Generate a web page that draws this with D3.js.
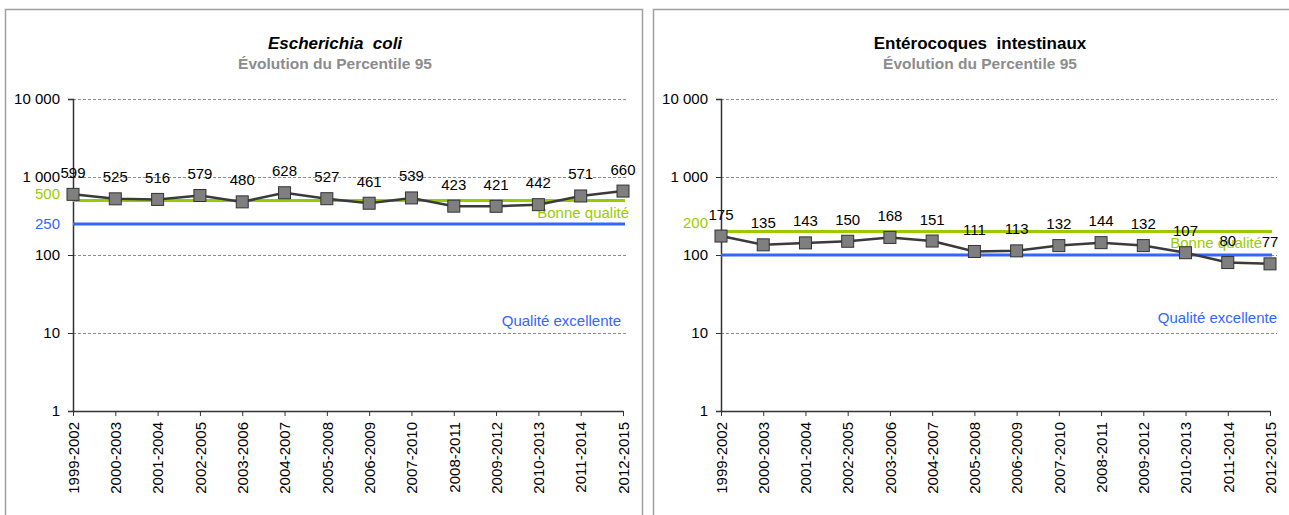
<!DOCTYPE html>
<html>
<head>
<meta charset="utf-8">
<script src="https://cdn.jsdelivr.net/npm/d3@7"></script>
<style>
  body { margin: 0; background: #fff; }
  svg { display: block; font-family: "Liberation Sans", Arial, sans-serif; }
  .grid line { stroke: #8c8c8c; stroke-dasharray: 3 2; }
  .axis path, .axis line { stroke: #333; }
</style>
</head>
<body>
<div id="chart"></div>
<script>
const periods = ["1999-2002", "2000-2003", "2001-2004", "2002-2005", "2003-2006",
  "2004-2007", "2005-2008", "2006-2009", "2007-2010", "2008-2011", "2009-2012",
  "2010-2013", "2011-2014", "2012-2015"];
const ecoliValues = [599, 525, 516, 579, 480, 628, 527, 461, 539, 423, 421, 442, 571, 660];
const enteroValues = [175, 135, 143, 150, 168, 151, 111, 113, 132, 144, 132, 107, 80, 77];
const yTicks = [1, 10, 100, 1000, 10000];
const ecoliThresholds = { good: 500, excellent: 250 };
const enteroThresholds = { good: 200, excellent: 100 };

const width = 1289;
const height = 515;

const green = "#99cc00";
const blue = "#3366ff";

const panels = [
  { title: "Escherichia  coli", italic: true, values: ecoliValues, th: ecoliThresholds,
    box: [5.5, 9.5, 637], x0: 73, x1: 623, gridEnd: 626, titleX: 335,
    goodLabelDy: -7, showExcTick: true,
    goodText: { x: 629, y: 213 }, excText: { x: 621, y: 321 } },
  { title: "Entérocoques  intestinaux", italic: false, values: enteroValues, th: enteroThresholds,
    box: [653.5, 9.5, 650], x0: 721, x1: 1270, gridEnd: 1277, titleX: 980,
    goodLabelDy: -9, showExcTick: false,
    goodText: { x: 1262, y: 243 }, excText: { x: 1277, y: 318 } },
];

const svg = d3.select("#chart").append("svg")
  .attr("width", width)
  .attr("height", height);
svg.append("rect").attr("width", width).attr("height", height).attr("fill", "#fff");

const y = d3.scaleLog().domain([1, 10000]).range([411, 99]);
const fmt = (d) => d3.format(",")(d).replace(/,/g, " ");

panels.forEach((p) => {
  const g = svg.append("g");

  // panel frame
  g.append("rect")
    .attr("x", p.box[0]).attr("y", p.box[1])
    .attr("width", p.box[2]).attr("height", 520)
    .attr("fill", "none").attr("stroke", "#9f9f9f").attr("stroke-width", 1.5);

  // titles
  g.append("text")
    .attr("x", p.titleX).attr("y", 49)
    .attr("text-anchor", "middle")
    .style("font-size", "17px").style("font-weight", "bold")
    .style("font-style", p.italic ? "italic" : "normal")
    .style("white-space", "pre")
    .text(p.title);
  g.append("text")
    .attr("x", p.titleX).attr("y", 69)
    .attr("text-anchor", "middle")
    .style("font-size", "15.5px").style("font-weight", "bold")
    .attr("fill", "#8c8c8c")
    .text("Évolution du Percentile 95");

  const x = d3.scalePoint().domain(periods).range([p.x0, p.x1]);

  // gridlines
  g.append("g").attr("class", "grid")
    .selectAll("line")
    .data(yTicks.filter((d) => d > 1))
    .join("line")
    .attr("x1", p.x0).attr("x2", p.gridEnd)
    .attr("y1", (d) => y(d) + 0.5).attr("y2", (d) => y(d) + 0.5);

  // y axis
  const yAxis = g.append("g").attr("class", "axis")
    .attr("transform", `translate(${p.x0},0)`)
    .call(d3.axisLeft(y).tickValues(yTicks).tickFormat(fmt).tickSize(5).tickPadding(8));
  yAxis.select(".domain").attr("stroke-width", 1.5);
  yAxis.selectAll("text").style("font-size", "15px").attr("fill", "#000");

  // x axis
  const xAxis = g.append("g").attr("class", "axis")
    .attr("transform", `translate(0,${y(1)})`)
    .call(d3.axisBottom(x).tickSize(5).tickSizeOuter(0));
  xAxis.select(".domain").attr("stroke-width", 1.5);
  xAxis.selectAll("text")
    .style("font-size", "15px").attr("fill", "#000")
    .attr("text-anchor", "end")
    .attr("transform", "rotate(-90)")
    .attr("x", -11).attr("y", 0).attr("dy", "0.35em");

  // thresholds
  const thr = [
    { v: p.th.good, c: green, dy: p.goodLabelDy, tick: true },
    { v: p.th.excellent, c: blue, dy: 0, tick: p.showExcTick },
  ];
  g.selectAll(".thr").data(thr).join("line")
    .attr("x1", p.x0).attr("x2", p.x1 + 2)
    .attr("y1", (d) => y(d.v)).attr("y2", (d) => y(d.v))
    .attr("stroke", (d) => d.c).attr("stroke-width", 3);
  g.selectAll(".thrLabel").data(thr.filter((d) => d.tick)).join("text")
    .attr("x", p.x0 - 13).attr("y", (d) => y(d.v) + d.dy)
    .attr("dy", "0.35em").attr("text-anchor", "end")
    .style("font-size", "15px").attr("fill", (d) => d.c)
    .text((d) => d.v);

  g.append("text")
    .attr("x", p.goodText.x).attr("y", p.goodText.y).attr("dy", "0.35em")
    .attr("text-anchor", "end").style("font-size", "15px").attr("fill", green)
    .text("Bonne qualité");
  g.append("text")
    .attr("x", p.excText.x).attr("y", p.excText.y).attr("dy", "0.35em")
    .attr("text-anchor", "end").style("font-size", "15px").attr("fill", blue)
    .text("Qualité excellente");

  // series
  const line = d3.line().x((d, i) => x(periods[i])).y((d) => y(d));
  g.append("path").datum(p.values)
    .attr("d", line).attr("fill", "none")
    .attr("stroke", "#3a3a3a").attr("stroke-width", 2.5);
  g.selectAll(".pt").data(p.values).join("rect")
    .attr("x", (d, i) => x(periods[i]) - 6)
    .attr("y", (d) => y(d) - 6)
    .attr("width", 12).attr("height", 12)
    .attr("fill", "#7f7f7f").attr("stroke", "#333").attr("stroke-width", 1);
  g.selectAll(".lbl").data(p.values).join("text")
    .attr("x", (d, i) => x(periods[i]))
    .attr("y", (d) => y(d) - 16.5)
    .attr("text-anchor", "middle")
    .style("font-size", "15px")
    .text((d) => d);
});
</script>
</body>
</html>
